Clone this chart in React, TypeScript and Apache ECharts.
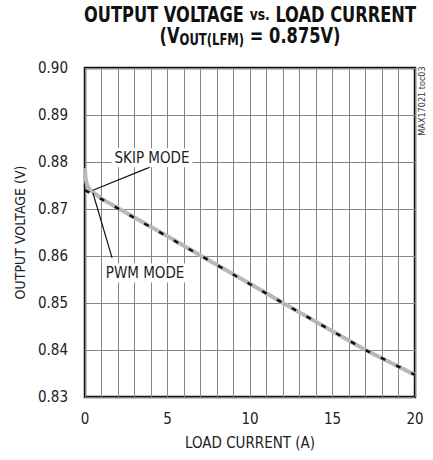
import React, { useEffect, useRef } from "react";
import * as echarts from "echarts";

const FONT = "'DejaVu Sans Condensed', 'Liberation Sans', sans-serif";

// PWM mode (black dashed)
const pwmCurrent = [0, 1, 3, 5, 7, 10, 12, 15, 17, 20];
const pwmVoltage = [0.874, 0.8721, 0.8681, 0.8641, 0.8601, 0.854, 0.85, 0.844, 0.84, 0.8347];
// Skip mode (gray)
const skipCurrent = [0, 0.03, 0.08, 0.15, 0.3, 0.6, 1, 3, 5, 7, 10, 12, 15, 17, 20];
const skipVoltage = [0.8787, 0.8768, 0.8757, 0.8749, 0.8741, 0.8733, 0.8722, 0.8682, 0.8642, 0.8601, 0.8541, 0.85, 0.844, 0.84, 0.8347];

const xTicks = [0, 5, 10, 15, 20];
const yTicks = [0.83, 0.84, 0.85, 0.86, 0.87, 0.88, 0.89, 0.9];

const zip = (a: number[], b: number[]) => a.map((v, i) => [v, b[i]]);

export default function App() {
  const ref = useRef<HTMLDivElement>(null);
  useEffect(() => {
    if (!ref.current) return;
    const chart = echarts.init(ref.current, null, { renderer: "svg" });
    const gridStyle = { show: true, lineStyle: { color: "#858585", width: 1 } };
    chart.setOption({
      animation: false,
      backgroundColor: "#fff",
      grid: {
        left: 85,
        right: 18,
        top: 68,
        bottom: 63,
        show: true,
        borderColor: "#111",
        borderWidth: 2.5,
        backgroundColor: "transparent",
        outerBoundsMode: "none",
        containLabel: false,
      },
      graphic: [
        {
          type: "text",
          x: 250,
          y: 15,
          scaleX: 0.86,
          style: {
            text: "{a|OUTPUT VOLTAGE }{s|vs.}{a| LOAD CURRENT}",
            align: "center",
            verticalAlign: "middle",
            rich: {
              a: { fontFamily: FONT, fontWeight: "bold", fontSize: 21, fill: "#111" },
              s: { fontFamily: FONT, fontWeight: "bold", fontSize: 16, fill: "#111" },
            },
          },
        },
        {
          type: "text",
          x: 250,
          y: 35,
          scaleX: 0.86,
          style: {
            text: "{a|(V}{b|OUT(LFM)}{a| = 0.875V)}",
            align: "center",
            verticalAlign: "middle",
            rich: {
              a: { fontFamily: FONT, fontWeight: "bold", fontSize: 21, fill: "#111", lineHeight: 24, verticalAlign: "bottom" },
              b: { fontFamily: FONT, fontWeight: "bold", fontSize: 15, fill: "#111", lineHeight: 19, verticalAlign: "bottom" },
            },
          },
        },
        {
          type: "text",
          x: 422,
          y: 101,
          rotation: Math.PI / 2,
          style: {
            text: "MAX17021 toc03",
            align: "center",
            verticalAlign: "middle",
            fontFamily: FONT,
            fontSize: 9,
            fill: "#333",
          },
        },
      ],
      xAxis: {
        type: "value",
        min: xTicks[0],
        max: xTicks[xTicks.length - 1],
        interval: 1,
        name: "LOAD CURRENT (A)",
        nameLocation: "middle",
        nameGap: 38,
        nameTextStyle: { fontFamily: FONT, fontSize: 15, color: "#222" },
        axisLine: { show: false },
        axisTick: { show: false },
        axisLabel: {
          fontFamily: FONT,
          fontSize: 15,
          color: "#222",
          margin: 14,
          formatter: (v: number) => (xTicks.includes(v) ? String(v) : ""),
        },
        splitLine: gridStyle,
      },
      yAxis: {
        type: "value",
        min: yTicks[0],
        max: yTicks[yTicks.length - 1],
        interval: 0.01,
        name: "OUTPUT VOLTAGE (V)",
        nameLocation: "middle",
        nameGap: 58,
        nameTextStyle: { fontFamily: FONT, fontSize: 14, color: "#222" },
        axisLine: { show: false },
        axisTick: { show: false },
        axisLabel: {
          fontFamily: FONT,
          fontSize: 15,
          color: "#222",
          margin: 17,
          formatter: (v: number) => v.toFixed(2),
        },
        splitLine: gridStyle,
      },
      series: [
        {
          name: "SKIP MODE",
          type: "line",
          data: zip(skipCurrent, skipVoltage),
          showSymbol: false,
          lineStyle: { color: "#b8b8b8", width: 4 },
          z: 2,
        },
        {
          name: "PWM MODE",
          type: "line",
          data: zip(pwmCurrent, pwmVoltage),
          showSymbol: false,
          lineStyle: { color: "#111", width: 2.5, type: [5, 12] },
          z: 3,
          markLine: {
            silent: true,
            symbol: ["none", "arrow"],
            symbolSize: [0, 12],
            label: { show: false },
            lineStyle: { color: "#111", width: 1.2, type: "solid" },
            emphasis: { disabled: true },
            data: [
              [{ coord: [3.94, 0.8789] }, { coord: [0.48, 0.874] }],
              [{ coord: [1.64, 0.8596] }, { coord: [0.48, 0.8734] }],
            ],
          },
          markPoint: {
            silent: true,
            symbol: "rect",
            symbolSize: 0,
            label: {
              show: true,
              position: "inside",
              fontFamily: FONT,
              fontSize: 15,
              color: "#222",
              backgroundColor: "#fff",
              padding: [2, 3],
            },
            data: [
              { coord: [4.06, 0.8809], value: "SKIP MODE", label: { formatter: "SKIP MODE" } },
              { coord: [3.64, 0.8564], value: "PWM MODE", label: { formatter: "PWM MODE" } },
            ],
          },
        },
      ],
    });
    return () => chart.dispose();
  }, []);
  return <div ref={ref} style={{ width: 433, height: 460, position: "absolute", left: 0, top: 0 }} />;
}
